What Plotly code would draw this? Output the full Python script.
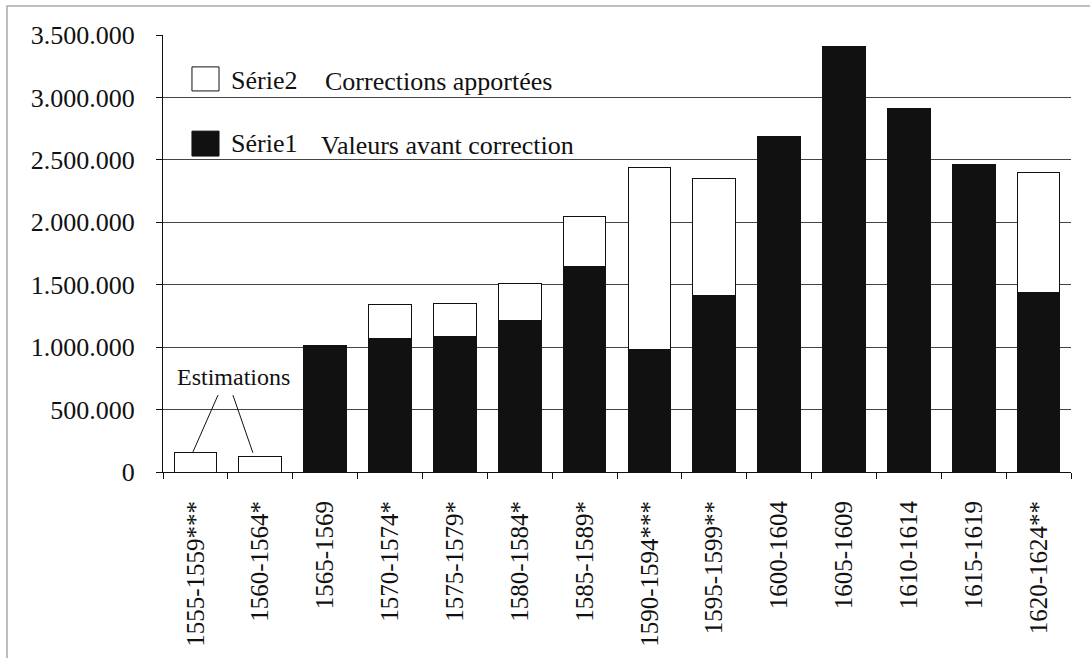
import plotly.graph_objects as go

categories = ["1555-1559***", "1560-1564*", "1565-1569", "1570-1574*", "1575-1579*",
              "1580-1584*", "1585-1589*", "1590-1594***", "1595-1599**", "1600-1604",
              "1605-1609", "1610-1614", "1615-1619", "1620-1624**"]
serie1 = [None, None, 1015000, 1072000, 1083000, 1213000, 1643000, 980000, 1415000,
          2685000, 3405000, 2910000, 2465000, 1435000]
serie2 = [160000, 128000, None, 268000, 269000, 300000, 405000, 1460000, 932000,
          None, None, None, None, 963000]
y_ticks = [0, 500000, 1000000, 1500000, 2000000, 2500000, 3000000, 3500000]

FONT = "'Liberation Serif', 'Times New Roman', Times, serif"

fig = go.Figure()
fig.add_trace(go.Bar(name="Série1", x=categories, y=serie1,
                     marker=dict(color="#111111", line=dict(color="#111111", width=1)),
                     width=0.66, showlegend=False))
fig.add_trace(go.Bar(name="Série2", x=categories, y=serie2,
                     marker=dict(color="white", line=dict(color="#111111", width=1)),
                     width=0.66, showlegend=False))

fig.update_layout(
    barmode="stack",
    width=1090, height=658,
    margin=dict(l=163, r=19, t=35, b=186),
    paper_bgcolor="white", plot_bgcolor="white",
    separators=",.",
    font=dict(family=FONT, color="#111111", size=26),
)
fig.update_yaxes(range=[0, 3500000], tickvals=y_ticks, tickformat=",d",
                 showgrid=True, gridcolor="#444444", gridwidth=1,
                 showline=True, linecolor="#111111", linewidth=1,
                 ticks="outside", ticklen=6, tickcolor="#111111",
                 ticklabelstandoff=16, zeroline=False,
                 tickfont=dict(family=FONT, size=26, color="#111111"))
fig.update_xaxes(showgrid=False, showline=True, linecolor="#111111", linewidth=1,
                 ticks="outside", ticklen=6, tickcolor="#111111",
                 tickson="boundaries", tickangle=-90, ticklabelstandoff=18,
                 tickfont=dict(family=FONT, size=25, color="#111111"))

shapes = [
    # outer frame of the scanned page
    dict(type="rect", xref="paper", yref="paper", x0=-0.1718, x1=1.03, y0=-0.45, y1=1.0664,
         line=dict(color="#aaaaaa", width=1.5), fillcolor="rgba(0,0,0,0)", layer="above"),
    # white legend background (hides gridlines)
    dict(type="rect", xref="paper", yref="paper", x0=0.002, x1=0.172, y0=0.68, y1=0.995,
         line=dict(width=0), fillcolor="white", layer="between"),
    # legend swatches
    dict(type="rect", xref="paper", yref="paper", x0=0.0319, x1=0.0617, y0=0.872, y1=0.927,
         line=dict(color="#111111", width=1), fillcolor="white", layer="above"),
    dict(type="rect", xref="paper", yref="paper", x0=0.0319, x1=0.0617, y0=0.723, y1=0.780,
         line=dict(color="#111111", width=1), fillcolor="#111111", layer="above"),
    # Estimations pointer lines
    dict(type="line", xref="paper", yref="paper", x0=0.0606, y0=0.176, x1=0.033, y1=0.046,
         line=dict(color="#111111", width=1), layer="above"),
    dict(type="line", xref="paper", yref="paper", x0=0.077, y0=0.176, x1=0.099, y1=0.044,
         line=dict(color="#111111", width=1), layer="above"),
]
fig.update_layout(shapes=shapes)

ann = dict(xref="paper", yref="paper", showarrow=False, xanchor="left", yanchor="middle",
           font=dict(family=FONT, size=26, color="#111111"))
fig.add_annotation(text="Série2", x=0.073, y=0.895, **ann)
fig.add_annotation(text="Corrections apportées", x=0.1765, y=0.893, **ann)
fig.add_annotation(text="Série1", x=0.073, y=0.751, **ann)
fig.add_annotation(text="Valeurs avant correction", x=0.172, y=0.748, **ann)
fig.add_annotation(text="Estimations", x=0.078, y=0.217, xref="paper", yref="paper",
                   showarrow=False, xanchor="center", yanchor="middle",
                   font=dict(family=FONT, size=24, color="#111111"))

fig.write_html("out.html", config={"displayModeBar": False},
               post_script="document.body.style.margin='0';")
